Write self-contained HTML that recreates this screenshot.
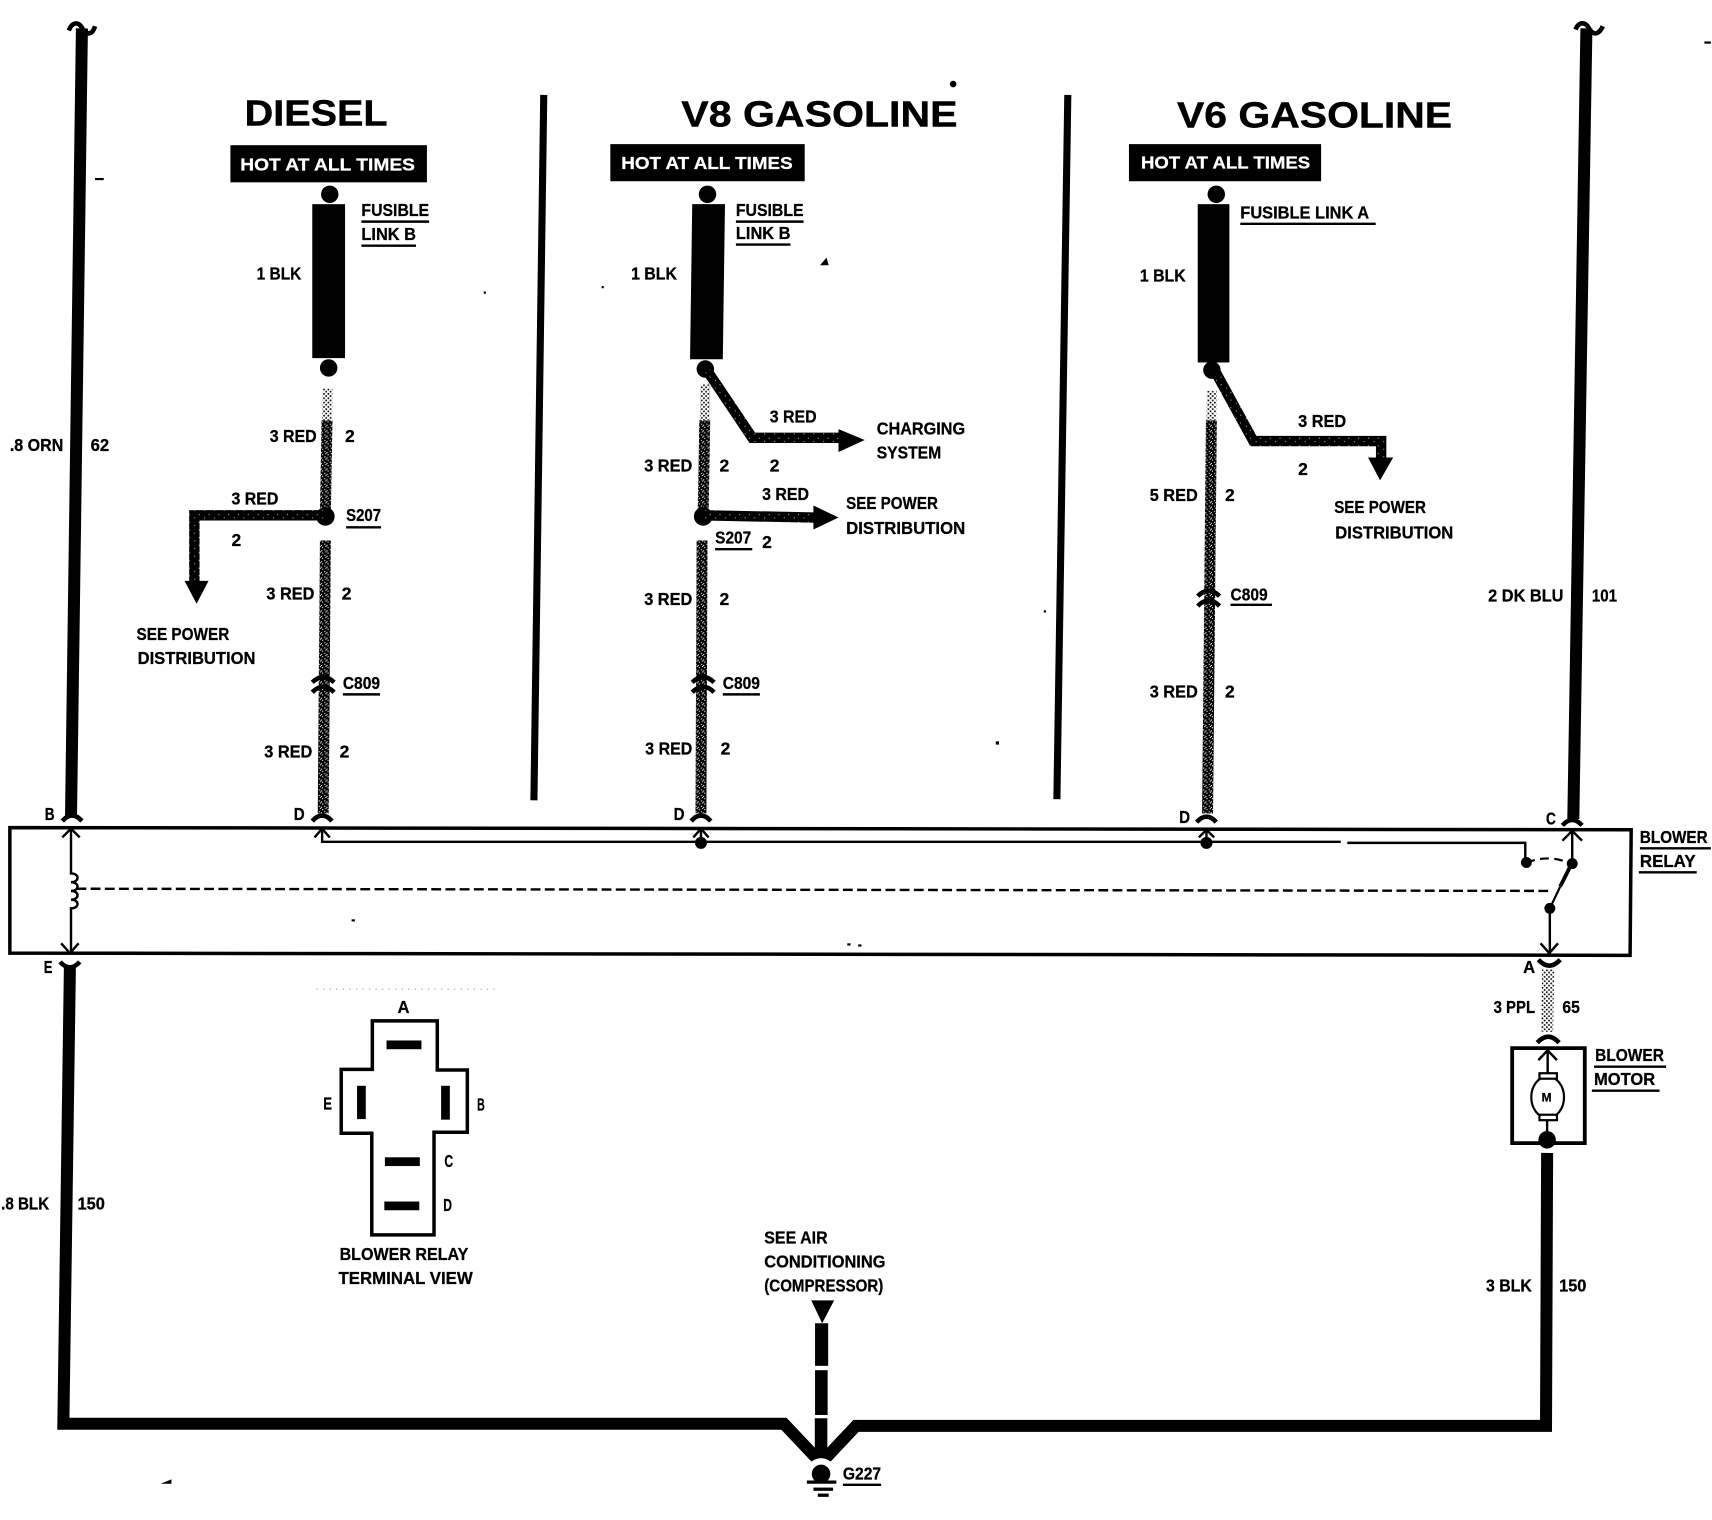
<!DOCTYPE html>
<html><head><meta charset="utf-8"><style>
html,body{margin:0;padding:0;background:#fff}
svg{display:block}
text{font-family:"Liberation Sans",sans-serif;font-weight:bold;font-size:16px;fill:#000;stroke:#000;stroke-width:.25}
.h{font-size:33.5px;stroke-width:.4}
.w{fill:#fff;stroke:#fff;font-size:16px}
.k{fill:none;stroke:#000;stroke-width:11;stroke-linejoin:miter}
.r{fill:none;stroke:url(#d);stroke-width:10}
.l{fill:none;stroke:url(#l);stroke-width:9}
.s{fill:none;stroke:url(#e);stroke-width:9.500;stroke-linejoin:miter}
.t{fill:none;stroke:#000;stroke-width:2.2}
.c{fill:none;stroke:#000;stroke-width:4.200}
.u{stroke:#000;stroke-width:2.2}
</style></head><body>
<svg width="1712" height="1520" viewBox="0 0 1568 1392.2" xmlns="http://www.w3.org/2000/svg">
<defs>
<pattern id="d" width="5" height="5" patternUnits="userSpaceOnUse"><rect width="5" height="5" fill="#000"/><rect x="0" y="1" width="1" height="1" fill="#fff"/><rect x="3" y="0" width="1" height="1" fill="#fff"/><rect x="2" y="3" width="1" height="1" fill="#fff"/><rect x="4" y="4" width="1" height="1" fill="#fff"/></pattern>
<pattern id="l" width="4" height="4" patternUnits="userSpaceOnUse"><rect width="4" height="4" fill="#fff"/><rect x="0" y="0" width="1.500" height="1.500" fill="#000"/><rect x="2" y="2" width="1.500" height="1.500" fill="#000"/></pattern>
<pattern id="e" width="9" height="7" patternUnits="userSpaceOnUse"><rect width="9" height="7" fill="#000"/><rect x="2" y="2" width=".8" height=".8" fill="#fff"/><rect x="7" y="5" width=".8" height=".8" fill="#fff"/></pattern>
</defs>
<rect width="1568" height="1393" fill="#fff"/>

<!-- main wires -->
<path class="k" d="M75 26L65 748"/>
<path class="k" d="M1453 26L1441 750"/>
<path class="c" d="M63 28C66 20 72 19 76 27C80 33 85 31 87 24"/>
<path class="c" d="M1443 27C1446 20 1452 19 1456 27C1460 33 1465 31 1468 24"/>
<path class="k" d="M64 885L58 1304H718L752 1340L784 1306H1416L1417 1056"/>
<!-- separators -->
<path d="M498 87L489 733M978 87L968 732" stroke="#000" stroke-width="6.500" fill="none"/>

<!-- relay box -->
<path d="M9 758L1494 760L1493 875L9 873Z" fill="none" stroke="#000" stroke-width="3.200"/>
<!-- connector caps and arrows -->
<path class="c" d="M57 752Q66 742 75 752"/><path class="c" d="M286 752Q295 742 304 752"/><path class="c" d="M633 752Q642 742 651 752"/><path class="c" d="M1096 753Q1105 743 1114 753"/><path class="c" d="M1431 756Q1440 746 1449 756"/>
<path class="c" d="M55 881Q64 891 73 881"/><path class="c" d="M1409 879Q1419 890 1429 879"/><path class="c" d="M1408 955Q1418 944 1428 955"/>
<path class="t" d="M57 767L65 759L73 767M288 767L295 759L302 767M635 767L642 759L649 767M1098 767L1105 760L1112 767M1431 770L1440 761L1449 770"/>
<path class="t" d="M56 864L64 873L72 864M1411 864L1419 873L1427 864"/>
<path class="t" d="M65 760V800C73 800 73 808 65 808C73 808 73 816 65 816C73 816 73 824 65 824C73 824 73 832 65 832V872"/>
<path class="t" d="M295 760V771H1228M1234 772H1397V790M642 760V772M1105 760V772M1440 762V791M1419.500 832V873"/>
<path d="M70 814L1418 816" stroke="#000" stroke-width="2.200" stroke-dasharray="9 4" fill="none"/>
<path d="M1398 790Q1420 782 1438 791" fill="none" stroke="#000" stroke-width="2" stroke-dasharray="8 5"/>
<path d="M1419.500 832L1429 812" stroke="#000" stroke-width="2" fill="none"/><path d="M1429 812L1438 794" stroke="#000" stroke-width="3.500" fill="none"/>
<circle cx="642" cy="772" r="5.500"/><circle cx="1105" cy="772" r="5.500"/><circle cx="1398" cy="790" r="5"/><circle cx="1440" cy="791" r="5"/><circle cx="1419.500" cy="832" r="5"/>

<!-- Diesel -->
<text class="h" x="224" y="115" textLength="131" lengthAdjust="spacingAndGlyphs">DIESEL</text>
<rect x="211" y="133" width="180" height="34"/>
<text class="w" x="220" y="156" textLength="160" lengthAdjust="spacingAndGlyphs">HOT AT ALL TIMES</text>
<circle cx="302" cy="178" r="8"/><rect x="286" y="187" width="30" height="141"/><circle cx="301" cy="337" r="8"/>
<path class="l" d="M300 356L299.500 385"/><path class="r" d="M299.500 385L298 470M298 495L296 745"/>
<circle cx="298" cy="473" r="8.500"/>
<path class="s" d="M298 472H178V533"/>
<path d="M169 532H191L180 553Z"/>
<text x="331" y="198" textLength="62" lengthAdjust="spacingAndGlyphs">FUSIBLE</text><line class="u" x1="331" y1="203" x2="393" y2="203"/>
<text x="331" y="220" textLength="50" lengthAdjust="spacingAndGlyphs">LINK B</text><line class="u" x1="331" y1="225" x2="381" y2="225"/>
<text x="235" y="256" textLength="41" lengthAdjust="spacingAndGlyphs">1 BLK</text>
<text x="247" y="405" textLength="43" lengthAdjust="spacingAndGlyphs">3 RED</text><text x="316" y="405">2</text>
<text x="212" y="462" textLength="43" lengthAdjust="spacingAndGlyphs">3 RED</text><text x="212" y="500">2</text>
<text x="317" y="477" textLength="32" lengthAdjust="spacingAndGlyphs">S207</text><line class="u" x1="317" y1="483" x2="349" y2="483"/>
<text x="244" y="549" textLength="44" lengthAdjust="spacingAndGlyphs">3 RED</text><text x="313" y="549">2</text>
<text x="125" y="586" textLength="85" lengthAdjust="spacingAndGlyphs">SEE POWER</text>
<text x="126" y="608" textLength="108" lengthAdjust="spacingAndGlyphs">DISTRIBUTION</text>
<path class="c" d="M286 625Q296 615 306 625M286 634Q296 624 306 634"/>
<text x="314" y="631" textLength="34" lengthAdjust="spacingAndGlyphs">C809</text><line class="u" x1="314" y1="636" x2="348" y2="636"/>
<text x="242" y="694" textLength="44" lengthAdjust="spacingAndGlyphs">3 RED</text><text x="311" y="694">2</text>

<!-- V8 -->
<text class="h" x="624" y="116" textLength="253" lengthAdjust="spacingAndGlyphs">V8 GASOLINE</text>
<rect x="559" y="132" width="178" height="34"/>
<text class="w" x="569" y="155" textLength="157" lengthAdjust="spacingAndGlyphs">HOT AT ALL TIMES</text>
<circle cx="648" cy="178" r="8"/><path d="M634 187H664L662 329H632Z"/><circle cx="646" cy="338" r="8"/>
<path class="l" d="M646 352L645.500 385"/><path class="r" d="M645.500 385L644 470M643 495L642 745"/>
<circle cx="644" cy="473" r="8.500"/>
<path class="s" d="M644 472L746 474"/><path d="M745 463L768 474L745 485Z"/>
<path class="s" d="M648 340L689 401H770"/><path d="M768 393L792 403L768 414Z"/>
<text x="674" y="198" textLength="62" lengthAdjust="spacingAndGlyphs">FUSIBLE</text><line class="u" x1="674" y1="203" x2="736" y2="203"/>
<text x="674" y="219" textLength="50" lengthAdjust="spacingAndGlyphs">LINK B</text><line class="u" x1="674" y1="224" x2="724" y2="224"/>
<text x="578" y="256" textLength="42" lengthAdjust="spacingAndGlyphs">1 BLK</text>
<text x="705" y="387" textLength="43" lengthAdjust="spacingAndGlyphs">3 RED</text>
<text x="803" y="398" textLength="81" lengthAdjust="spacingAndGlyphs">CHARGING</text>
<text x="803" y="420" textLength="59" lengthAdjust="spacingAndGlyphs">SYSTEM</text>
<text x="590" y="432" textLength="44" lengthAdjust="spacingAndGlyphs">3 RED</text><text x="659" y="432">2</text><text x="705" y="432">2</text>
<text x="698" y="458" textLength="43" lengthAdjust="spacingAndGlyphs">3 RED</text>
<text x="775" y="466" textLength="84" lengthAdjust="spacingAndGlyphs">SEE POWER</text>
<text x="775" y="489" textLength="109" lengthAdjust="spacingAndGlyphs">DISTRIBUTION</text>
<text x="655" y="498" textLength="33" lengthAdjust="spacingAndGlyphs">S207</text><line class="u" x1="655" y1="503" x2="689" y2="503"/><text x="698" y="502">2</text>
<text x="590" y="554" textLength="44" lengthAdjust="spacingAndGlyphs">3 RED</text><text x="659" y="554">2</text>
<path class="c" d="M634 625Q644 615 654 625M634 634Q644 624 654 634"/>
<text x="662" y="631" textLength="34" lengthAdjust="spacingAndGlyphs">C809</text><line class="u" x1="662" y1="636" x2="696" y2="636"/>
<text x="591" y="691" textLength="43" lengthAdjust="spacingAndGlyphs">3 RED</text><text x="660" y="691">2</text>

<!-- V6 -->
<text class="h" x="1078" y="117" textLength="252" lengthAdjust="spacingAndGlyphs">V6 GASOLINE</text>
<rect x="1034" y="132" width="176" height="34"/>
<text class="w" x="1045" y="154.500" textLength="155" lengthAdjust="spacingAndGlyphs">HOT AT ALL TIMES</text>
<circle cx="1114" cy="178" r="8"/><rect x="1097" y="187" width="29" height="145"/><circle cx="1110" cy="339" r="8"/>
<path class="l" d="M1110 358L1109.500 385"/><path class="r" d="M1109.500 385L1106 745"/>
<path class="s" d="M1114 342L1148 404H1265V420"/><path d="M1253 419H1276L1264 440Z"/>
<text x="1136" y="200" textLength="118" lengthAdjust="spacingAndGlyphs">FUSIBLE LINK A</text><line class="u" x1="1136" y1="205" x2="1260" y2="205"/>
<text x="1044" y="258" textLength="42" lengthAdjust="spacingAndGlyphs">1 BLK</text>
<text x="1189" y="391" textLength="44" lengthAdjust="spacingAndGlyphs">3 RED</text><text x="1189" y="435">2</text>
<text x="1053" y="459" textLength="44" lengthAdjust="spacingAndGlyphs">5 RED</text><text x="1122" y="459">2</text>
<text x="1222" y="470" textLength="84" lengthAdjust="spacingAndGlyphs">SEE POWER</text>
<text x="1223" y="493" textLength="108" lengthAdjust="spacingAndGlyphs">DISTRIBUTION</text>
<path class="c" d="M1097 546Q1107 536 1117 546M1097 555Q1107 545 1117 555"/>
<text x="1127" y="550" textLength="34" lengthAdjust="spacingAndGlyphs">C809</text><line class="u" x1="1127" y1="554" x2="1165" y2="554"/>
<text x="1053" y="639" textLength="44" lengthAdjust="spacingAndGlyphs">3 RED</text><text x="1122" y="639">2</text>

<!-- edge labels -->
<text x="9" y="413" textLength="49" lengthAdjust="spacingAndGlyphs">.8 ORN</text><text x="83" y="413" textLength="17" lengthAdjust="spacingAndGlyphs">62</text>
<text x="1363" y="551" textLength="69" lengthAdjust="spacingAndGlyphs">2 DK BLU</text><text x="1458" y="551" textLength="23" lengthAdjust="spacingAndGlyphs">101</text>
<text x="41" y="751" textLength="9" lengthAdjust="spacingAndGlyphs">B</text>
<text x="269" y="751" textLength="10" lengthAdjust="spacingAndGlyphs">D</text>
<text x="617" y="751" textLength="10" lengthAdjust="spacingAndGlyphs">D</text>
<text x="1080" y="754" textLength="10" lengthAdjust="spacingAndGlyphs">D</text>
<text x="1416" y="755" textLength="9" lengthAdjust="spacingAndGlyphs">C</text>
<text x="1502" y="772" textLength="62" lengthAdjust="spacingAndGlyphs">BLOWER</text><line class="u" x1="1502" y1="777" x2="1567" y2="777"/>
<text x="1502" y="794" textLength="51" lengthAdjust="spacingAndGlyphs">RELAY</text><line class="u" x1="1501" y1="799" x2="1554" y2="799"/>
<text x="40" y="891" textLength="8" lengthAdjust="spacingAndGlyphs">E</text>
<text x="1395" y="891" textLength="11" lengthAdjust="spacingAndGlyphs">A</text>

<!-- motor -->
<path class="r" d="M1418 888L1417 945" style="stroke:url(#l);stroke-width:11"/>
<path d="M1385 960H1451.500V1047H1385Z" fill="none" stroke="#000" stroke-width="3.500"/>
<path class="t" d="M1417.500 962V984M1409 971L1417.500 962L1426 971"/>
<ellipse cx="1417.500" cy="1005" rx="15" ry="19" fill="#fff" stroke="#000" stroke-width="2"/>
<rect x="1410" y="983" width="16" height="5" fill="#fff" stroke="#000" stroke-width="2"/>
<rect x="1410" y="1021" width="16" height="5" fill="#fff" stroke="#000" stroke-width="2"/>
<text x="1412" y="1009" style="font-size:11px">M</text>
<path class="t" d="M1417 1026V1040"/><circle cx="1417" cy="1044" r="8"/>
<text x="1368" y="928" textLength="38" lengthAdjust="spacingAndGlyphs">3 PPL</text><text x="1431" y="928" textLength="16" lengthAdjust="spacingAndGlyphs">65</text>
<text x="1461" y="972" textLength="63" lengthAdjust="spacingAndGlyphs">BLOWER</text><line class="u" x1="1460" y1="977" x2="1526" y2="977"/>
<text x="1460" y="994" textLength="56" lengthAdjust="spacingAndGlyphs">MOTOR</text><line class="u" x1="1458" y1="999" x2="1520" y2="999"/>

<text x="1" y="1108" textLength="44" lengthAdjust="spacingAndGlyphs">.8 BLK</text><text x="71" y="1108" textLength="25" lengthAdjust="spacingAndGlyphs">150</text>
<text x="1361" y="1183" textLength="42" lengthAdjust="spacingAndGlyphs">3 BLK</text><text x="1428" y="1183" textLength="25" lengthAdjust="spacingAndGlyphs">150</text>

<!-- terminal view -->
<path d="M341 935H400.500V980H428V1037H397.500V1131H340.500V1038H312.500V979.500H341Z" fill="none" stroke="#000" stroke-width="3.200"/>
<rect x="354" y="953" width="32" height="8"/><rect x="327" y="994.500" width="8" height="30.500"/><rect x="404" y="994.500" width="8" height="31"/><rect x="352.500" y="1060" width="32" height="8"/><rect x="352" y="1100.500" width="32" height="8"/>
<text x="364" y="928" textLength="11" lengthAdjust="spacingAndGlyphs">A</text>
<text x="296" y="1016" textLength="8" lengthAdjust="spacingAndGlyphs">E</text>
<text x="437" y="1017" textLength="7" lengthAdjust="spacingAndGlyphs">B</text>
<text x="407" y="1069" textLength="8" lengthAdjust="spacingAndGlyphs">C</text>
<text x="406" y="1109" textLength="8" lengthAdjust="spacingAndGlyphs">D</text>
<text x="311" y="1154" textLength="118" lengthAdjust="spacingAndGlyphs">BLOWER RELAY</text>
<text x="310" y="1176" textLength="123" lengthAdjust="spacingAndGlyphs">TERMINAL VIEW</text>
<path d="M290 906H456" stroke="#999" stroke-width="1" stroke-dasharray="1 5" fill="none"/>

<!-- compressor / ground -->
<text x="700" y="1139" textLength="58" lengthAdjust="spacingAndGlyphs">SEE AIR</text>
<text x="700" y="1161" textLength="111" lengthAdjust="spacingAndGlyphs">CONDITIONING</text>
<text x="700" y="1183" textLength="109" lengthAdjust="spacingAndGlyphs">(COMPRESSOR)</text>
<path d="M743 1191H764L753 1212Z"/>
<rect x="746.500" y="1212" width="12" height="39"/><rect x="746.500" y="1255" width="11.500" height="41"/>
<path d="M752 1299V1338" stroke="#000" stroke-width="11.500"/>
<path d="M741 1341Q752 1331 763 1341L752 1352Z" fill="#fff" stroke="#fff"/>
<circle cx="752" cy="1350" r="8.500"/>
<rect x="739" y="1356" width="27" height="3"/><rect x="745" y="1362.500" width="18" height="3"/><rect x="749" y="1368" width="10" height="3"/>
<text x="772" y="1355" textLength="35" lengthAdjust="spacingAndGlyphs">G227</text><line class="u" x1="772" y1="1360" x2="807" y2="1360"/>

<!-- specks -->
<circle cx="873" cy="77" r="3"/><path d="M751 243L757 236L759 243Z"/><path d="M147 1359L157 1355V1359Z"/><rect x="87" y="163" width="8" height="2"/><rect x="1561" y="38" width="6" height="2"/><rect x="912" y="679" width="3" height="3"/><rect x="776" y="864" width="3" height="2"/><rect x="786" y="865" width="3" height="2"/><rect x="322" y="842" width="3" height="2"/><rect x="443" y="267" width="2" height="2"/><rect x="551" y="262" width="2" height="2"/><rect x="956" y="559" width="2" height="2"/>
</svg>
</body></html>
